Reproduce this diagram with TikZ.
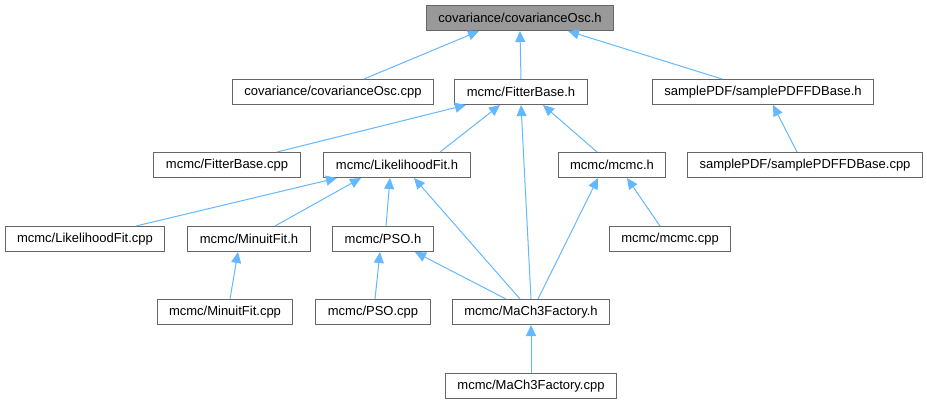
\documentclass[tikz,border=0pt]{standalone}
\usepackage{fontspec}
\setmainfont{Liberation Sans}
\usepackage{tikz}
\usetikzlibrary{arrows.meta}
\definecolor{edgeblue} {RGB}{99, 184, 255}
\definecolor{boxline}  {RGB}{102,102,102}
\definecolor{boxfill}  {RGB}{153,153,153}
\tikzset{
  filebox/.style={
    rectangle, draw=boxline, line width=1pt,
    minimum height=25pt, inner xsep=12pt, fill=white,
    font=\fontsize{13}{15}\selectfont
  },
  rootbox/.style={
    filebox, fill=boxfill
  },
  incl/.style={
    -{Triangle[length=11pt, width=10pt]}, line width=1pt, color=edgeblue
  },
}
\begin{document}
\begin{tikzpicture}[x=1pt, y=-1pt]
  \useasboundingbox (0,0) rectangle (927,405);

  % Header and its includers
  \node[rootbox] (covh)   at (520,18)  {covariance/covarianceOsc.h};
  \node[filebox] (covcpp) at (333,92)  {covariance/covarianceOsc.cpp};
  \node[filebox] (fbh)    at (521,92)  {mcmc/FitterBase.h};
  \node[filebox] (sph)    at (763,92)  {samplePDF/samplePDFFDBase.h};

  \node[filebox] (fbcpp)  at (227,165) {mcmc/FitterBase.cpp};
  \node[filebox] (lfh)    at (397,165) {mcmc/LikelihoodFit.h};
  \node[filebox] (mcmch)  at (612,165) {mcmc/mcmc.h};
  \node[filebox] (spcpp)  at (805,165) {samplePDF/samplePDFFDBase.cpp};

  \node[filebox] (lfcpp)  at (85,239)  {mcmc/LikelihoodFit.cpp};
  \node[filebox] (minh)   at (249,239) {mcmc/MinuitFit.h};
  \node[filebox] (psoh)   at (383,239) {mcmc/PSO.h};
  \node[filebox] (mcmccpp) at (670,239) {mcmc/mcmc.cpp};

  \node[filebox] (mincpp) at (225,312) {mcmc/MinuitFit.cpp};
  \node[filebox] (psocpp) at (373,312) {mcmc/PSO.cpp};
  \node[filebox] (m3h)    at (531,312) {mcmc/MaCh3Factory.h};
  \node[filebox] (m3cpp)  at (531,386) {mcmc/MaCh3Factory.cpp};

  % Include edges (child -> included header)
  \draw[incl] ([xshift=31]covcpp.north) -- ([xshift=-41]covh.south);
  \draw[incl] (fbh.north) -- (covh.south);
  \draw[incl] ([xshift=-41]sph.north) -- ([xshift=48]covh.south);

  \draw[incl] ([xshift=50]fbcpp.north) -- ([xshift=-55]fbh.south);
  \draw[incl] ([xshift=43]lfh.north) -- ([xshift=-21]fbh.south);
  \draw[incl] (m3h.north) -- (fbh.south);
  \draw[incl] ([xshift=-15]mcmch.north) -- ([xshift=22]fbh.south);
  \draw[incl] ([xshift=-8]spcpp.north) -- ([xshift=10]sph.south);

  \draw[incl] ([xshift=51]lfcpp.north) -- ([xshift=-60]lfh.south);
  \draw[incl] ([xshift=26]minh.north) -- ([xshift=-36]lfh.south);
  \draw[incl] ([xshift=3]psoh.north) -- ([xshift=-7]lfh.south);
  \draw[incl] ([xshift=-11]m3h.north) -- ([xshift=17]lfh.south);
  \draw[incl] ([xshift=7]m3h.north) -- ([xshift=-14]mcmch.south);
  \draw[incl] ([xshift=-10]mcmccpp.north) -- ([xshift=15]mcmch.south);

  \draw[incl] ([xshift=5]mincpp.north) -- ([xshift=-11]minh.south);
  \draw[incl] ([xshift=2]psocpp.north) -- ([xshift=-3]psoh.south);
  \draw[incl] ([xshift=-25]m3h.north) -- ([xshift=32]psoh.south);
  \draw[incl] (m3cpp.north) -- (m3h.south);
\end{tikzpicture}
\end{document}
